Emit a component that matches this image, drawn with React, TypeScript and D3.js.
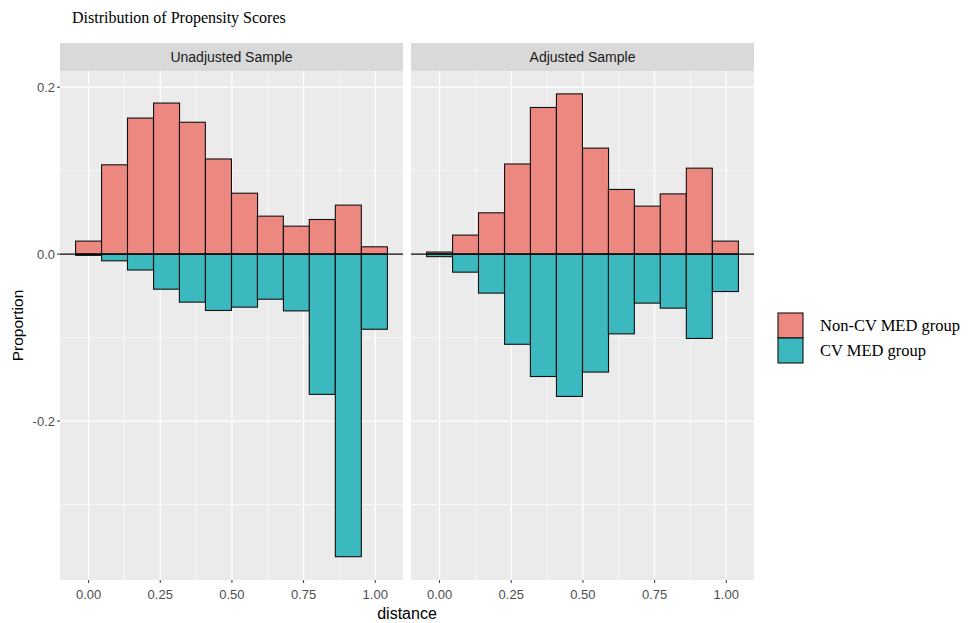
import { FC } from 'react';
import * as d3 from 'd3';

// bin mids (distance) and proportions
const binMids = [0, 0.0906, 0.181, 0.272, 0.362, 0.453, 0.544, 0.634, 0.725, 0.815, 0.906, 0.997];
const BIN_WIDTH = 0.0906;

const unadjNonCV = [0.0156, 0.107, 0.163, 0.181, 0.158, 0.114, 0.073, 0.0455, 0.0335, 0.0415, 0.0587, 0.0088];
const unadjCV = [-0.0015, -0.008, -0.019, -0.042, -0.0575, -0.0675, -0.0635, -0.054, -0.068, -0.168, -0.3625, -0.09];
const adjNonCV = [0.0025, 0.0228, 0.0495, 0.108, 0.1757, 0.192, 0.127, 0.0775, 0.0575, 0.0722, 0.103, 0.0156];
const adjCV = [-0.003, -0.0216, -0.0467, -0.108, -0.1466, -0.1705, -0.1413, -0.0955, -0.0587, -0.0647, -0.101, -0.0448];

const panelNames = ['Unadjusted Sample', 'Adjusted Sample'];
const xTicks = [0, 0.25, 0.5, 0.75, 1];
const xMinor = [0.125, 0.375, 0.625, 0.875];
const yTicks = [0.2, 0, -0.2];
const yMinor = [0.1, -0.1, -0.3];
const groups = ['Non-CV MED group', 'CV MED group'];
const COLORS = ['#EC8880', '#3CB9BF'];

const W = 976, H = 623;
const PANEL_W = 343, PANEL_H = 509;
const PANEL_X = [60, 411];
const PANEL_Y = 71;
const STRIP_H = 28;
const SANS = 'Liberation Sans, Arial, sans-serif';
const SERIF = 'Liberation Serif, Times New Roman, serif';

const x = d3.scaleLinear().domain([-0.0997, 1.0967]).range([0, PANEL_W]);
const y = d3.scaleLinear().domain([-0.3904, 0.2194]).range([PANEL_H, 0]);

const Panel: FC<{ idx: number; top: number[]; bottom: number[] }> = ({ idx, top, bottom }) => {
  const tx = PANEL_X[idx];
  const bars = (vals: number[], color: string) =>
    vals.map((v, i) => {
      const x0 = x(binMids[i] - BIN_WIDTH / 2);
      const x1 = x(binMids[i] + BIN_WIDTH / 2);
      const y0 = y(Math.max(v, 0));
      const y1 = y(Math.min(v, 0));
      return (
        <rect key={color + i} x={x0} y={y0} width={x1 - x0} height={Math.max(y1 - y0, 0.5)}
          fill={color} stroke="#111" strokeWidth={1.1} />
      );
    });
  return (
    <g transform={`translate(${tx},${PANEL_Y})`}>
      <rect x={0} y={-STRIP_H} width={PANEL_W} height={STRIP_H} fill="#D9D9D9" />
      <text x={PANEL_W / 2} y={-STRIP_H / 2} dy="0.35em" textAnchor="middle" fontFamily={SANS}
        fontSize={14} fill="#1A1A1A">{panelNames[idx]}</text>
      <rect x={0} y={0} width={PANEL_W} height={PANEL_H} fill="#EBEBEB" />
      {yMinor.map((t) => (
        <line key={'ym' + t} x1={0} x2={PANEL_W} y1={y(t)} y2={y(t)} stroke="#fff" strokeWidth={0.6} />
      ))}
      {xMinor.map((t) => (
        <line key={'xm' + t} x1={x(t)} x2={x(t)} y1={0} y2={PANEL_H} stroke="#fff" strokeWidth={0.6} />
      ))}
      {yTicks.map((t) => (
        <line key={'y' + t} x1={0} x2={PANEL_W} y1={y(t)} y2={y(t)} stroke="#fff" strokeWidth={1.2} />
      ))}
      {xTicks.map((t) => (
        <line key={'x' + t} x1={x(t)} x2={x(t)} y1={0} y2={PANEL_H} stroke="#fff" strokeWidth={1.2} />
      ))}
      {bars(top, COLORS[0])}
      {bars(bottom, COLORS[1])}
      <line x1={0} x2={PANEL_W} y1={y(0)} y2={y(0)} stroke="#000" strokeWidth={1.1} />
      {xTicks.map((t) => (
        <g key={'xt' + t} transform={`translate(${x(t)},${PANEL_H})`}>
          <line y1={0} y2={3} stroke="#333" strokeWidth={1} />
          <text y={19} textAnchor="middle" fontFamily={SANS} fontSize={13} fill="#4D4D4D">
            {t.toFixed(2)}
          </text>
        </g>
      ))}
    </g>
  );
};

const App: FC = () => {
  return (
    <svg width={W} height={H} style={{ position: 'absolute', left: 0, top: 0, background: '#fff' }}>
      <rect width={W} height={H} fill="#fff" />
      <text x={72} y={23} fontFamily={SERIF} fontSize={16} fill="#000">
        Distribution of Propensity Scores
      </text>
      <Panel idx={0} top={unadjNonCV} bottom={unadjCV} />
      <Panel idx={1} top={adjNonCV} bottom={adjCV} />
      {/* y axis on left panel */}
      <g transform={`translate(${PANEL_X[0]},${PANEL_Y})`}>
        {yTicks.map((t) => (
          <g key={'yt' + t} transform={`translate(0,${y(t)})`}>
            <line x1={-3} x2={0} stroke="#333" strokeWidth={1} />
            <text x={-5} dy="0.35em" textAnchor="end" fontFamily={SANS} fontSize={13} fill="#4D4D4D">
              {t === 0 ? '0.0' : d3.format('.1f')(t).replace('−', '-')}
            </text>
          </g>
        ))}
      </g>
      <text transform={`translate(23,${PANEL_Y + PANEL_H / 2}) rotate(-90)`} textAnchor="middle"
        fontFamily={SANS} fontSize={15.5} fill="#000">Proportion</text>
      <text x={(PANEL_X[0] + PANEL_X[1] + PANEL_W) / 2} y={619} textAnchor="middle" fontFamily={SANS}
        fontSize={16} fill="#000">distance</text>
      {/* legend */}
      <g transform="translate(778,313)">
        {groups.map((g, i) => (
          <g key={g} transform={`translate(0,${i * 25})`}>
            <rect x={0} y={0} width={25} height={25} fill={COLORS[i]} stroke="#111" strokeWidth={1.1} />
            <text x={42} y={12.5} dy="0.35em" fontFamily={SERIF} fontSize={16.5} fill="#000">{g}</text>
          </g>
        ))}
      </g>
    </svg>
  );
};

export default App;
